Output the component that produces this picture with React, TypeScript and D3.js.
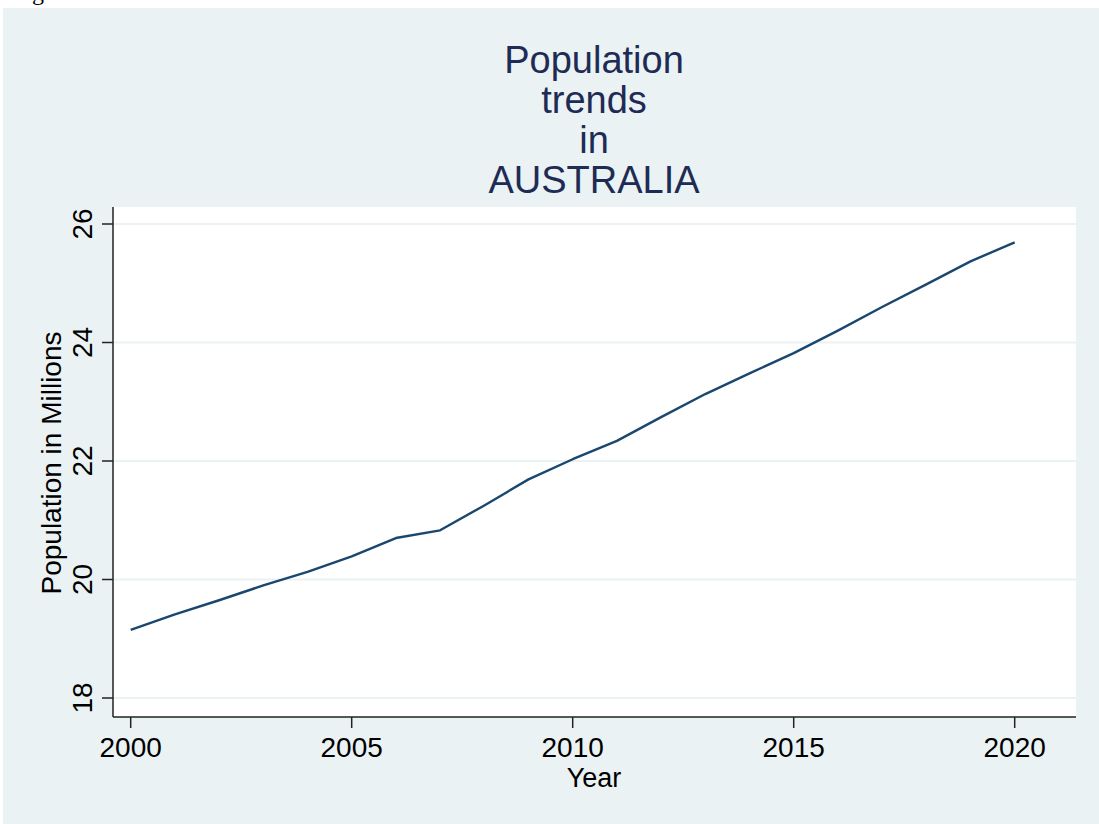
import React from "react";
import * as d3 from "d3";

const years = [2000, 2001, 2002, 2003, 2004, 2005, 2006, 2007, 2008, 2009, 2010, 2011, 2012, 2013, 2014, 2015, 2016, 2017, 2018, 2019, 2020];
const population = [19.15, 19.41, 19.65, 19.90, 20.13, 20.39, 20.70, 20.83, 21.25, 21.69, 22.03, 22.34, 22.74, 23.13, 23.48, 23.82, 24.20, 24.60, 24.98, 25.37, 25.69];
const xTicks = [2000, 2005, 2010, 2015, 2020];
const yTicks = [18, 20, 22, 24, 26];
const titleLines = ["Population", "trends", "in", "AUSTRALIA"];

const W = 1099;
const H = 824;
const plot = { left: 113, right: 1076, top: 207, bottom: 717 };
const font = "'Liberation Sans', Arial, Helvetica, sans-serif";

export default function App() {
  const x = d3.scaleLinear().domain([2000, 2020]).range([130.7, 1014.7]);
  const y = d3.scaleLinear().domain([18, 26]).range([698, 224]);
  const line = d3
    .line<number>()
    .x((_, i) => x(years[i]))
    .y((d) => y(d));

  return (
    <svg
      width={W}
      height={H}
      style={{ position: "absolute", left: 0, top: 0, background: "#ffffff" }}
    >
      <text x={12} y={0} fontFamily="'Liberation Serif', 'Times New Roman', serif" fontSize={24} fill="#000">
        Figure 3
      </text>
      <rect x={3} y={8} width={W - 3} height={H - 8} fill="#eaf2f3" />
      <rect x={plot.left} y={plot.top} width={plot.right - plot.left} height={plot.bottom - plot.top} fill="#ffffff" />
      {titleLines.map((t, i) => (
        <text
          key={t}
          x={594}
          y={73 + i * 40}
          textAnchor="middle"
          fontFamily={font}
          fontSize={38}
          fill="#1e2b55"
        >
          {t}
        </text>
      ))}
      {yTicks.map((t) => (
        <line key={"g" + t} x1={plot.left} x2={plot.right} y1={y(t)} y2={y(t)} stroke="#eaf2f3" strokeWidth={2} />
      ))}
      <path d={line(population) || ""} fill="none" stroke="#1a476f" strokeWidth={2.4} strokeLinejoin="round" />
      <line x1={plot.left} x2={plot.left} y1={plot.top} y2={plot.bottom} stroke="#222" strokeWidth={1.5} />
      <line x1={plot.left} x2={plot.right} y1={plot.bottom} y2={plot.bottom} stroke="#222" strokeWidth={1.5} />
      {yTicks.map((t) => (
        <g key={"y" + t}>
          <line x1={plot.left - 11} x2={plot.left} y1={y(t)} y2={y(t)} stroke="#222" strokeWidth={1.5} />
          <text
            transform={`translate(92,${y(t)}) rotate(-90)`}
            textAnchor="middle"
            fontFamily={font}
            fontSize={28}
            fill="#000"
          >
            {t}
          </text>
        </g>
      ))}
      {xTicks.map((t) => (
        <g key={"x" + t}>
          <line x1={x(t)} x2={x(t)} y1={plot.bottom} y2={plot.bottom + 11} stroke="#222" strokeWidth={1.5} />
          <text x={x(t)} y={757} textAnchor="middle" fontFamily={font} fontSize={28} fill="#000">
            {t}
          </text>
        </g>
      ))}
      <text x={594} y={787} textAnchor="middle" fontFamily={font} fontSize={27} fill="#000">
        Year
      </text>
      <text
        transform={`translate(61,${(plot.top + plot.bottom) / 2 + 1}) rotate(-90)`}
        textAnchor="middle"
        fontFamily={font}
        fontSize={28}
        fill="#000"
      >
        Population in Millions
      </text>
    </svg>
  );
}
